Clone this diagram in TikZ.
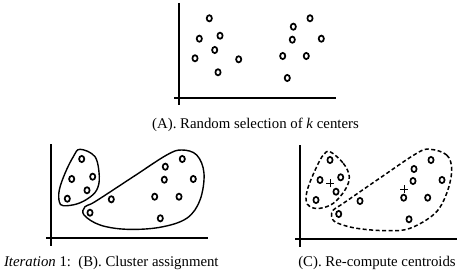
\documentclass[tikz,border=0pt]{standalone}
\usepackage{fontspec}
\setmainfont{Liberation Serif}
\usetikzlibrary{shapes.geometric}
\begin{document}
\begin{tikzpicture}[x=1pt,y=-1pt,
  pt/.style={draw,ellipse,minimum width=5.2pt,minimum height=6.2pt,inner sep=0pt,line width=1.7pt},
  axis/.style={line width=1.8pt},
  clus/.style={line width=1.4pt},
  dclus/.style={line width=1.5pt,dash pattern=on 4pt off 2.5pt},
  captext/.style={font=\fontsize{14.8}{17}\selectfont,inner sep=0pt},
  cross/.style={line width=0.5pt}]
\useasboundingbox (0,0) rectangle (462,275);
% ---------- Panel A ----------
\coordinate (ay) at (179.3,3);
\coordinate (ayb) at (179.3,105);
\coordinate (axl) at (174,97.7);
\coordinate (axr) at (336,97.7);
\draw[axis] (ay) -- (ayb);
\draw[axis] (axl) -- (axr);
\foreach \n/\p in {a1/{(209.3,18.3)},a2/{(199.3,38.7)},a3/{(220,35.7)},a4/{(214.7,50)},a5/{(195,58.3)},a6/{(238.7,59.3)},a7/{(218,72.3)},
  a8/{(310,18.3)},a9/{(293.3,26.7)},a10/{(292.3,39.7)},a11/{(321.3,38.7)},a12/{(282.7,56)},a13/{(306.3,56)},a14/{(287.3,78)}}
  \node[pt] (\n) at \p {};
\node[captext] (capA) at (255.5,124.8) {(A). Random selection of \textit{k} centers};
% ---------- Panel B ----------
\coordinate (by) at (50.7,144);
\coordinate (byb) at (50.7,246);
\coordinate (bxl) at (46,237.7);
\coordinate (bxr) at (208,237.7);
\draw[axis] (by) -- (byb);
\draw[axis] (bxl) -- (bxr);
\foreach \n/\p in {b1/{(81.7,159)},b2/{(71.7,179)},b3/{(92.7,176.7)},b4/{(87,190.3)},b5/{(67.3,198.7)},b6/{(111.3,199.3)},b7/{(90,212.7)},
  b8/{(182.3,159)},b9/{(165.3,166.7)},b10/{(164.3,179.7)},b11/{(193.3,179)},b12/{(154.7,196.7)},b13/{(179,196.7)},b14/{(160.3,218.3)}}
  \node[pt] (\n) at \p {};
\draw[clus] plot[smooth cycle,tension=0.6] coordinates {(80,149.3) (95,156.7) (99.3,176.7) (96.7,190) (88.3,198.3) (76.7,204) (63.3,205.7) (59.3,201.7) (59.3,190) (65,173.3) (73.3,156.7)};
\draw[clus] plot[smooth cycle,tension=0.6] coordinates {(181.7,150) (196.7,155) (204,173.3) (200,200) (186.7,218.3) (160,227.3) (126.7,229.3) (100,225) (84,215) (85,206.7) (95,201.7) (133.3,176.7) (166.7,155)};
\node[captext] (capB) at (111.3,262.5) {\textit{Iteration} 1:\ \ (B). Cluster assignment};
% ---------- Panel C ----------
\coordinate (cy) at (300,145);
\coordinate (cyb) at (300,247.3);
\coordinate (cxl) at (295,239);
\coordinate (cxr) at (456.7,239);
\draw[axis] (cy) -- (cyb);
\draw[axis] (cxl) -- (cxr);
\foreach \n/\p in {c1/{(330,160)},c2/{(320,180)},c3/{(340.7,177.3)},c4/{(336,191.7)},c5/{(316,200)},c6/{(360,201)},c7/{(338.7,214)},
  c8/{(431,160)},c9/{(414,169)},c10/{(413,181)},c11/{(442,180)},c12/{(403.7,197.7)},c13/{(427.7,197.7)},c14/{(409,219.3)}}
  \node[pt] (\n) at \p {};
\coordinate (m1) at (330,183.3);
\coordinate (m2) at (404.3,189.3);
\draw[cross] ([xshift=-4pt]m1) -- ([xshift=4pt]m1) ([yshift=-4pt]m1) -- ([yshift=4pt]m1);
\draw[cross] ([xshift=-4pt]m2) -- ([xshift=4pt]m2) ([yshift=-4pt]m2) -- ([yshift=4pt]m2);
\draw[dclus] plot[smooth cycle,tension=0.6] coordinates {(330,151.7) (343.3,163.3) (349.3,176.7) (345,190) (333.3,203.3) (320,208.3) (310,206.7) (306,200) (308.3,186.7) (316.7,166.7) (323.3,155)};
\draw[dclus] plot[smooth cycle,tension=0.6] coordinates {(430,149.3) (446.7,155) (451.7,170) (446.7,193.3) (435,213.3) (410,228.3) (386.7,230.7) (356.7,228.3) (336.7,222.7) (331.7,216.7) (333.3,210) (343.3,203.3) (380,178) (416.7,153.3)};
\node[captext] (capC) at (377,262.5) {(C). Re-compute centroids};
\end{tikzpicture}
\end{document}
